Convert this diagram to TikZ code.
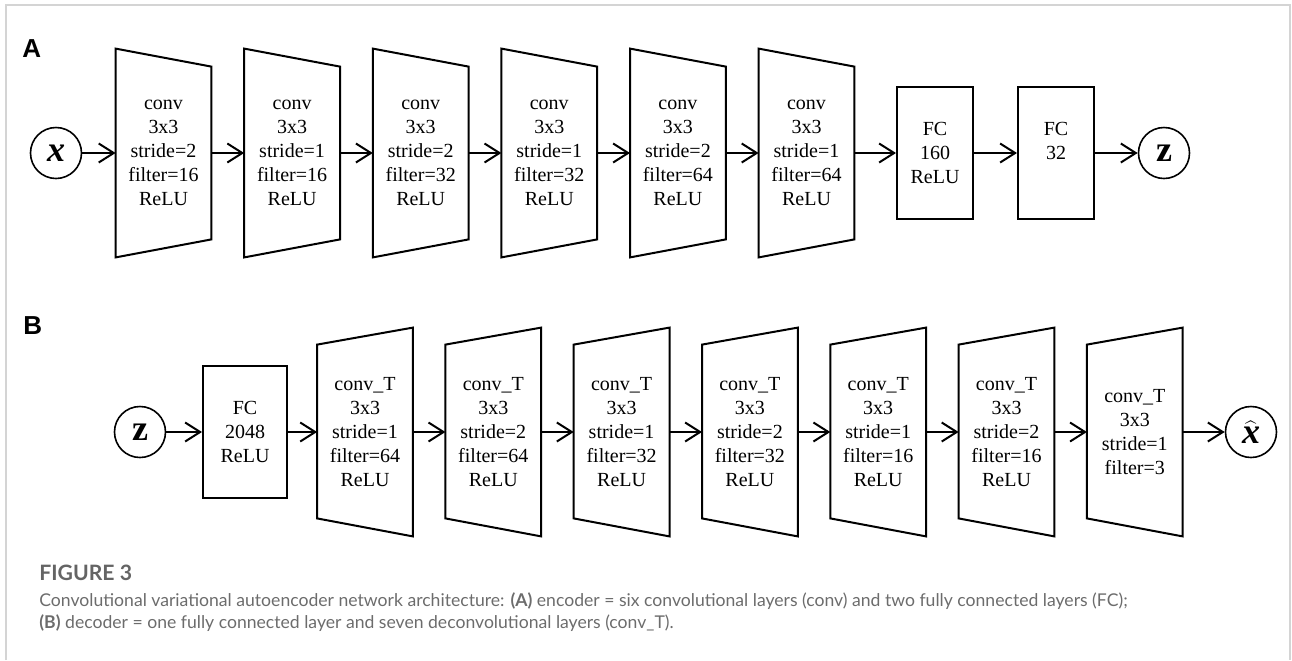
\documentclass[tikz,border=0pt]{standalone}
\usepackage{fontspec}
\usepackage{bm}
\setmainfont{Liberation Serif}
\newfontfamily\panelfont{Liberation Sans}
\newfontfamily\capfont{Lato}
\usepackage{tikz}
\usetikzlibrary{calc,arrows.meta}
\definecolor{framegray}{RGB}{212,212,212}
\definecolor{capgray}{RGB}{108,108,108}
\definecolor{figgray}{RGB}{100,100,100}
\tikzset{
	layer/.style={rectangle, inner sep=0pt, minimum width=47.5pt, minimum height=104pt, align=center, font=\fontsize{10}{12}\selectfont},
	fcbox/.style={rectangle, draw, line width=1pt, inner sep=0pt, minimum width=38pt, minimum height=66pt, align=center, font=\fontsize{10}{12}\selectfont},
	var/.style={circle, draw, line width=0.8pt, inner sep=0pt, minimum size=25.5pt, font=\fontsize{18}{18}\selectfont},
	conn/.style={-{Straight Barb[length=7.5pt,width=9.5pt]}, line width=1pt},
	shape line/.style={line width=1pt, line join=miter},
	panel/.style={inner sep=0pt, anchor=base west, font=\panelfont\bfseries\fontsize{13}{13}\selectfont},
	captext/.style={inner sep=0pt, anchor=base west, text=capgray, font=\capfont\fontsize{8.8}{10}\selectfont}
}
% conv layer narrows to the right, conv_T layer widens to the right
\def\encshape#1{\draw[shape line] (#1.north west) -- ($(#1.north east)+(0,18)$) -- ($(#1.south east)+(0,-18)$) -- (#1.south west) -- cycle;}
\def\decshape#1{\draw[shape line] ($(#1.north west)+(0,17)$) -- (#1.north east) -- (#1.south east) -- ($(#1.south west)+(0,-18)$) -- cycle;}

\begin{document}
\begin{tikzpicture}[x=0.5pt, y=-0.5pt]
			%%%%% START %%%%%
			\useasboundingbox (0,0) rectangle (1292,660);
			\draw[framegray, line width=1pt] (6,660) -- (6,5) -- (1290,5) -- (1290,660);
			
			% encoder
			\node[panel] (pa) at (22,57) {A};
			\node[var] (x) at (56,153) {\textbf{\textit{x}}};
			\node[layer] (e1) at (163.5,153) {conv\\3x3\\stride=2\\filter=16\\ReLU};
			\node[layer] (e2) at (292.1,153) {conv\\3x3\\stride=1\\filter=16\\ReLU};
			\node[layer] (e3) at (420.7,153) {conv\\3x3\\stride=2\\filter=32\\ReLU};
			\node[layer] (e4) at (549.3,153) {conv\\3x3\\stride=1\\filter=32\\ReLU};
			\node[layer] (e5) at (677.9,153) {conv\\3x3\\stride=2\\filter=64\\ReLU};
			\node[layer] (e6) at (806.5,153) {conv\\3x3\\stride=1\\filter=64\\ReLU};
			\node[fcbox] (f1) at (935,153) {FC\\160\\ReLU};
			\node[fcbox] (f2) at (1056,153) {FC\\32\\~};
			\node[var] (z) at (1164,153) {\textbf{z}};
			\foreach \n in {e1,e2,e3,e4,e5,e6} {\encshape{\n}}
			
			\draw[conn] (x) -- (e1);
			\draw[conn] (e1) -- (e2);
			\draw[conn] (e2) -- (e3);
			\draw[conn] (e3) -- (e4);
			\draw[conn] (e4) -- (e5);
			\draw[conn] (e5) -- (e6);
			\draw[conn] (e6) -- (f1);
			\draw[conn] (f1) -- (f2);
			\draw[conn] (f2) -- (z);
			
			% decoder
			\node[panel] (pb) at (23,334) {B};
			\node[var] (zin) at (140,432) {\textbf{z}};
			\node[fcbox, minimum width=42pt] (d0) at (245,432) {FC\\2048\\ReLU};
			\node[layer] (d1) at (365,432) {conv\_T\\3x3\\stride=1\\filter=64\\ReLU};
			\node[layer] (d2) at (493.3,432) {conv\_T\\3x3\\stride=2\\filter=64\\ReLU};
			\node[layer] (d3) at (621.6,432) {conv\_T\\3x3\\stride=1\\filter=32\\ReLU};
			\node[layer] (d4) at (749.9,432) {conv\_T\\3x3\\stride=2\\filter=32\\ReLU};
			\node[layer] (d5) at (878.2,432) {conv\_T\\3x3\\stride=1\\filter=16\\ReLU};
			\node[layer] (d6) at (1006.5,432) {conv\_T\\3x3\\stride=2\\filter=16\\ReLU};
			\node[layer] (d7) at (1134.8,432) {conv\_T\\3x3\\stride=1\\filter=3};
			\node[var] (xhat) at (1251,432) {$\widehat{\mbox{\textbf{\textit{x}}}}$};
			\foreach \n in {d1,d2,d3,d4,d5,d6,d7} {\decshape{\n}}
			
			\draw[conn] (zin) -- (d0);
			\draw[conn] (d0) -- (d1);
			\draw[conn] (d1) -- (d2);
			\draw[conn] (d2) -- (d3);
			\draw[conn] (d3) -- (d4);
			\draw[conn] (d4) -- (d5);
			\draw[conn] (d5) -- (d6);
			\draw[conn] (d6) -- (d7);
			\draw[conn] (d7) -- (xhat);
			
			% caption
			\node[captext, text=figgray, font=\capfont\bfseries\fontsize{10.6}{12}\selectfont] (fig) at (39,580) {FIGURE 3};
			\node[captext] (cap1) at (39,606) {Convolutional variational autoencoder network architecture: \textbf{(A)} encoder = six convolutional layers (conv) and two fully connected layers (FC);};
			\node[captext] (cap2) at (39,628) {\textbf{(B)} decoder = one fully connected layer and seven deconvolutional layers (conv\_T).};
			%%%%% END %%%%%
\end{tikzpicture}
\end{document}
